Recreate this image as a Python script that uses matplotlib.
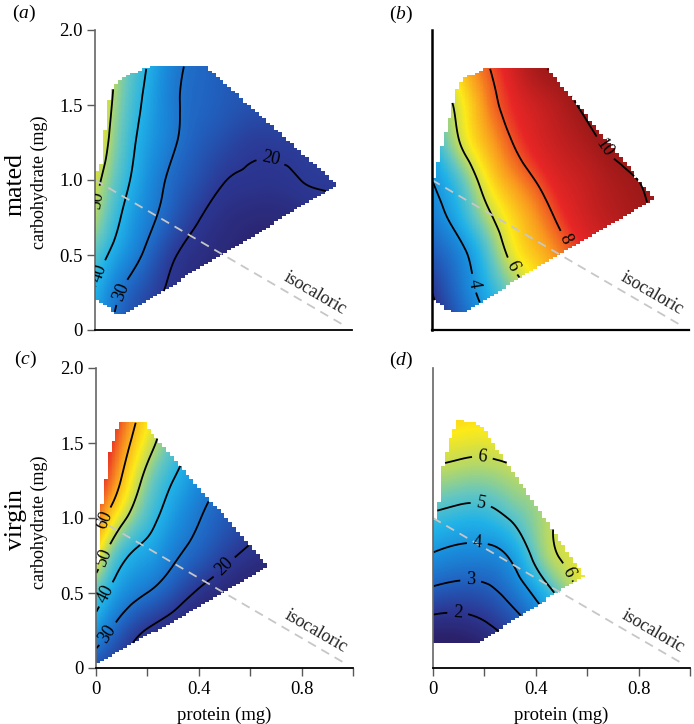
import numpy as np
import matplotlib
matplotlib.use("Agg")
import matplotlib.pyplot as plt
import matplotlib.tri as mtri
from matplotlib.path import Path
from matplotlib.colors import LinearSegmentedColormap, Normalize

plt.rcParams["font.family"] = "serif"
plt.rcParams["font.serif"] = ["Liberation Serif", "DejaVu Serif"]
plt.rcParams["mathtext.fontset"] = "custom"
plt.rcParams["mathtext.rm"] = "Liberation Serif"
plt.rcParams["mathtext.it"] = "Liberation Serif:italic"

# grid nodes (protein across, carbohydrate down the rows)
protein_nodes = [0.0, 0.1, 0.2, 0.3, 0.4, 0.5, 0.6, 0.7, 0.8, 0.9, 1.0]
carb_nodes = [0.0, 0.25, 0.5, 0.75, 1.0, 1.25, 1.5, 1.75, 2.0]

# (a) mated, first response
surf_a = [
    [36, 27, 20, 16, 14, 12.5, 11.5, 11, 11, 11, 11],
    [39.5, 30, 23.5, 18.5, 15.5, 13.5, 12.5, 12, 12, 12, 12],
    [44, 36, 28.5, 21, 17.5, 15.5, 14, 13.5, 13.5, 14, 14],
    [49.5, 40, 32.5, 26, 20.5, 17.5, 16, 15.8, 16.5, 17.5, 18],
    [52, 43, 35, 28.5, 24, 20.3, 19.2, 19.0, 20.0, 20.6, 21],
    [56, 45, 37, 31, 26.5, 23.5, 21.2, 21.0, 21.2, 21.6, 22],
    [58, 46.5, 38.5, 31.5, 28, 26, 24.5, 24, 24, 24.5, 25],
    [60, 48, 40, 32.2, 28.5, 26.5, 25.5, 25, 25, 25.5, 26],
    [62, 50, 42, 34.5, 30.5, 28.5, 27, 26.5, 26.5, 27, 27],
]
# (b) mated, second response
surf_b = [
    [1.5, 2.5, 3.6, 4.6, 5.5, 6.3, 7.0, 7.6, 8.1, 8.5, 8.8],
    [2.0, 3.2, 4.3, 5.3, 6.2, 7.0, 7.7, 8.3, 8.8, 9.2, 9.5],
    [2.8, 3.6, 4.8, 6.1, 6.9, 7.6, 8.3, 8.8, 9.3, 9.6, 9.8],
    [3.5, 4.4, 5.6, 6.6, 7.4, 8.2, 8.9, 9.4, 9.8, 10.1, 10.3],
    [4.0, 5.0, 6.3, 7.3, 8.0, 8.7, 9.2, 9.7, 10.0, 10.3, 10.5],
    [4.6, 5.9, 7.0, 7.9, 8.6, 9.2, 9.7, 10.2, 10.5, 10.8, 11.0],
    [5.3, 6.2, 7.4, 8.3, 9.0, 9.6, 10.2, 10.6, 10.9, 11.1, 11.3],
    [5.8, 6.8, 7.8, 8.7, 9.75, 10.2, 10.7, 11.0, 11.2, 11.4, 11.5],
    [6.2, 7.2, 8.2, 9.1, 9.9, 10.5, 11.0, 11.3, 11.5, 11.6, 11.7],
]
# (c) virgin, first response
surf_c = [
    [24, 19, 14, 12, 10, 9, 8.5, 8, 8, 8, 8],
    [35.5, 26, 19.5, 16, 13, 11, 10, 9.5, 9, 9, 9],
    [44.5, 35, 29.9, 24.5, 19, 15.5, 13, 11.5, 10.5, 10, 10],
    [55.5, 42, 37, 31.5, 26.5, 21.8, 18.5, 16, 14, 13, 12],
    [65.5, 52, 43, 36, 30.4, 26, 22.5, 19.5, 17, 15, 14],
    [73, 59.5, 47.5, 40, 34, 29, 25.5, 22.5, 20, 18, 17],
    [78, 64, 53, 44.5, 38, 33, 29, 26, 23.5, 21.5, 20],
    [82, 68, 57, 48, 41.5, 36, 32, 29, 26.5, 24.5, 23],
    [85, 72, 61, 51.5, 45, 39, 35, 32, 29.5, 27.5, 26],
]
# (d) virgin, second response
surf_d = [
    [0.4, 0.45, 0.8, 1.4, 2.1, 2.9, 3.7, 4.4, 5.0, 5.5, 5.9],
    [1.45, 1.45, 1.75, 2.3, 3.1, 3.9, 4.7, 5.4, 6.0, 6.4, 6.8],
    [2.77, 2.62, 2.73, 3.27, 4.2, 5.3, 6.2, 6.8, 7.2, 7.5, 7.7],
    [3.92, 3.71, 3.69, 4.1, 5.25, 6.05, 6.35, 6.7, 7.0, 7.2, 7.4],
    [4.85, 4.67, 4.66, 5.05, 5.6, 6.1, 6.3, 6.6, 6.8, 7.0, 7.1],
    [5.72, 5.57, 5.53, 5.74, 5.9, 6.05, 6.3, 6.5, 6.7, 6.8, 6.9],
    [6.4, 6.3, 6.25, 6.35, 6.4, 6.5, 6.6, 6.7, 6.8, 6.9, 7.0],
    [6.95, 6.85, 6.8, 6.85, 6.9, 6.95, 7.0, 7.0, 7.1, 7.1, 7.2],
    [7.3, 7.2, 7.15, 7.2, 7.2, 7.25, 7.25, 7.3, 7.3, 7.3, 7.4],
]

# outline of the sampled diet space (protein, carbohydrate)
outline_a = [(0, 0.2), (0, 1.05), (0.02, 1.06), (0.035, 1.3), (0.055, 1.55), (0.075, 1.63),
             (0.1, 1.67), (0.15, 1.71), (0.205, 1.75), (0.436, 1.75), (0.942, 0.967),
             (0.109, 0.1), (0.083, 0.111), (0.064, 0.133)]
outline_b = [(0, 0.21), (0, 0.99), (0.013, 1.044), (0.026, 1.156), (0.051, 1.311), (0.077, 1.467),
             (0.09, 1.556), (0.103, 1.644), (0.128, 1.678), (0.212, 1.749), (0.446, 1.749),
             (0.865, 0.878), (0.12, 0.116), (0.09, 0.116), (0.051, 0.144)]
outline_c = [(0, 0.033), (0, 0.7), (0.015, 0.7), (0.015, 0.856), (0.022, 1.078), (0.041, 1.3),
             (0.054, 1.456), (0.073, 1.544), (0.086, 1.611), (0.092, 1.638), (0.188, 1.638),
             (0.227, 1.544), (0.669, 0.678), (0.015, 0.033)]
outline_d = [(0, 0.162), (0, 0.7), (0.006, 0.7), (0.006, 0.98), (0.019, 1.0), (0.026, 1.189),
             (0.038, 1.344), (0.058, 1.478), (0.077, 1.567), (0.094, 1.633), (0.096, 1.644),
             (0.128, 1.644), (0.186, 1.616), (0.59, 0.607), (0.481, 0.5), (0.186, 0.178),
             (0.16, 0.162)]

levels_a = [20, 30, 40, 50]
levels_b = [2, 4, 6, 8, 10]
levels_c = [20, 30, 40, 50, 60]
levels_d = [1, 2, 3, 4, 5, 6]

iso_protein = [0.0, 0.97]
iso_carb = [1.0, 0.03]

cmap = LinearSegmentedColormap.from_list("landscape", [
    (0.00, (0.17, 0.13, 0.42)),
    (0.10, (0.17, 0.22, 0.58)),
    (0.20, (0.13, 0.38, 0.75)),
    (0.30, (0.10, 0.55, 0.86)),
    (0.38, (0.13, 0.70, 0.91)),
    (0.46, (0.40, 0.78, 0.75)),
    (0.53, (0.72, 0.85, 0.40)),
    (0.60, (0.99, 0.92, 0.10)),
    (0.70, (0.98, 0.62, 0.12)),
    (0.82, (0.91, 0.15, 0.15)),
    (1.00, (0.62, 0.10, 0.10)),
])
norm_first = Normalize(13, 83)
norm_second = Normalize(1.2, 10.0)

# pixel blocks of the masked surface, each split into sub x sub smooth samples
block = 1.0 / 66
n_px, n_py, sub = 66, 120, 5


def draw_panel(ax, surf, outline, levels, norm, label_pos):
    P, C = np.meshgrid(protein_nodes, carb_nodes)
    tri = mtri.Triangulation(P.ravel(), C.ravel())
    interp = mtri.CubicTriInterpolator(tri, np.asarray(surf, float).ravel(), kind="min_E")
    xf = (np.arange(n_px * sub) + 0.5) * block / sub
    yf = (np.arange(n_py * sub) + 0.5) * block / sub
    XX, YY = np.meshgrid(xf, yf)
    ZZ = interp(XX, YY)
    xb = (np.arange(n_px) + 0.5) * block
    yb = (np.arange(n_py) + 0.5) * block
    BX, BY = np.meshgrid(xb, yb)
    inside = Path(outline).contains_points(np.column_stack([BX.ravel(), BY.ravel()])).reshape(BX.shape)
    inside = np.repeat(np.repeat(inside, sub, axis=0), sub, axis=1)
    ZZ = np.ma.masked_where(~inside | np.ma.getmaskarray(ZZ), ZZ)
    ax.imshow(ZZ, extent=[0, n_px * block, 0, n_py * block], origin="lower", cmap=cmap,
              norm=norm, interpolation="nearest", aspect="auto")
    cs = ax.contour(XX, YY, ZZ, levels=levels, colors="k", linewidths=1.3)
    ax.clabel(cs, fmt="%d", fontsize=13, inline=True, inline_spacing=6, manual=label_pos)
    ax.plot(iso_protein, iso_carb, ls=(0, (5, 3.5)), color="0.78", lw=1.3)
    ax.text(0.855, 0.245, "isocaloric", rotation=-30, rotation_mode="anchor",
            ha="center", va="center", fontsize=13, color="0.15")
    ax.set_xlim(0, 1)
    ax.set_ylim(0, 2)
    for s in ["top", "right"]:
        ax.spines[s].set_visible(False)


fig = plt.figure(figsize=(6.94, 7.24), dpi=100)
W, H = 694, 724
ax_a = fig.add_axes([95 / W, 1 - 330 / H, 257 / W, 300 / H])
ax_b = fig.add_axes([432 / W, 1 - 330 / H, 257 / W, 300 / H])
ax_c = fig.add_axes([96 / W, 1 - 668 / H, 257 / W, 300 / H])
ax_d = fig.add_axes([433 / W, 1 - 668 / H, 257 / W, 300 / H])

draw_panel(ax_a, surf_a, outline_a, levels_a, norm_first,
           [(0.02, 0.87), (0.02, 0.38), (0.096, 0.256), (0.68, 1.11)])
draw_panel(ax_b, surf_b, outline_b, levels_b, norm_second,
           [(0.68, 1.222), (0.513, 0.6), (0.308, 0.422), (0.16, 0.311)])
draw_panel(ax_c, surf_c, outline_c, levels_c, norm_first,
           [(0.047, 0.978), (0.047, 0.733), (0.054, 0.478), (0.041, 0.233), (0.496, 0.678)])
draw_panel(ax_d, surf_d, outline_d, levels_d, norm_second,
           [(0.192, 1.4), (0.186, 1.089), (0.173, 0.844), (0.147, 0.593), (0.096, 0.356), (0.545, 0.656)])

yt = [0, 0.5, 1.0, 1.5, 2.0]
ytl = ["0", "0.5", "1.0", "1.5", "2.0"]
xt = [0, 0.2, 0.4, 0.6, 0.8, 1.0]
xtl = ["0", "", "0.4", "", "0.8", ""]

for ax in [ax_a, ax_c]:
    ax.set_yticks(yt)
    ax.set_yticklabels(ytl)
    ax.spines["left"].set_color("0.4")
for ax in [ax_c, ax_d]:
    ax.set_xticks(xt)
    ax.set_xticklabels(xtl)
    ax.text(0.5, -0.157, "protein (mg)", transform=ax.transAxes, ha="center", va="center", fontsize=13.5)
for ax in [ax_a, ax_b]:
    ax.set_xticks([])
for ax in [ax_b, ax_d]:
    ax.set_yticks([])
ax_d.spines["left"].set_color("0.4")
ax_b.spines["left"].set_linewidth(1.8)
ax_b.spines["bottom"].set_linewidth(1.6)
for ax in [ax_a, ax_b, ax_c, ax_d]:
    ax.tick_params(direction="out", length=6, width=1, color="0.35", labelsize=13.5, pad=3)
    ax.spines["bottom"].set_linewidth(max(ax.spines["bottom"].get_linewidth(), 1.3))
    ax.spines["left"].set_linewidth(max(ax.spines["left"].get_linewidth(), 1.2))

fig.text(39 / W, 1 - 182 / H, "carbohydrate (mg)", rotation=90, ha="center", va="center", fontsize=13)
fig.text(39 / W, 1 - 522 / H, "carbohydrate (mg)", rotation=90, ha="center", va="center", fontsize=13)
fig.text(16 / W, 1 - 185 / H, "mated", rotation=90, ha="center", va="center", fontsize=18.5)
fig.text(16 / W, 1 - 520 / H, "virgin", rotation=90, ha="center", va="center", fontsize=18.5)

for lab, x, y in [("a", 24, 13), ("b", 401, 14), ("c", 25, 359), ("d", 401, 360)]:
    fig.text(x / W, 1 - y / H, "($\\mathit{%s}$)" % lab, ha="center", va="center", fontsize=14)

fig.savefig("out.png", dpi=100)
